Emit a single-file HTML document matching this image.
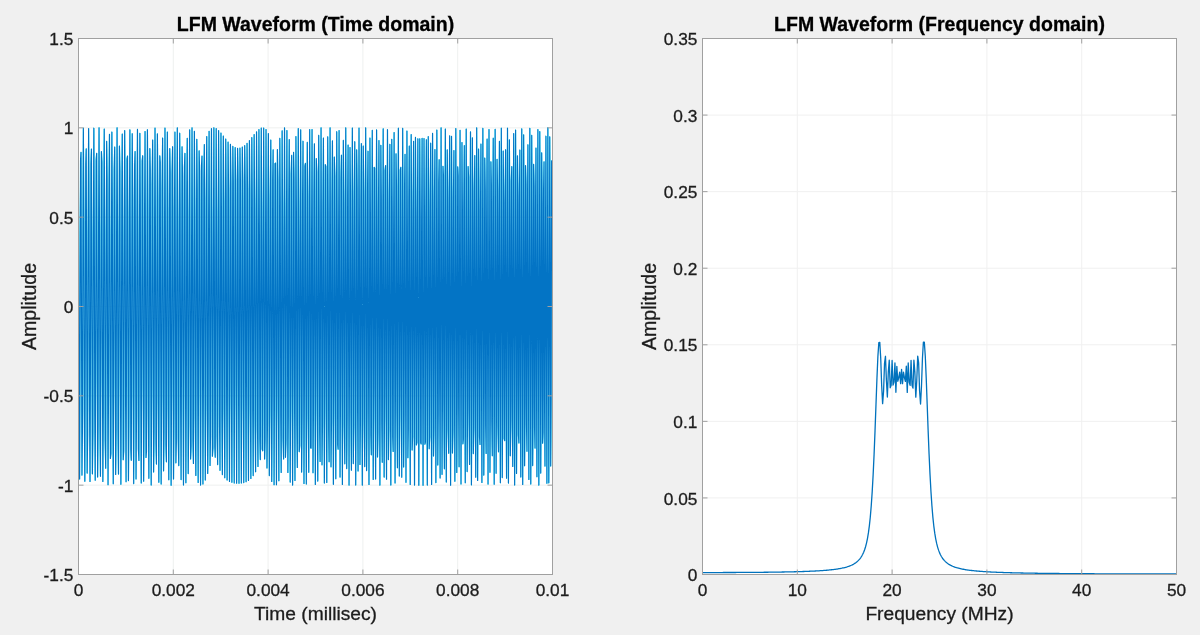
<!DOCTYPE html><html><head><meta charset="utf-8"><style>html,body{margin:0;padding:0;background:#f0f0f0;overflow:hidden}svg{display:block;will-change:transform}</style></head><body><svg width="1200" height="635" viewBox="0 0 1200 635">
<rect width="1200" height="635" fill="#f0f0f0"/>
<filter id="satc1" x="0" y="0" width="100%" height="100%" color-interpolation-filters="sRGB"><feComponentTransfer><feFuncR type="table" tableValues="0 0.124 0.242 0.360 0.665 1"/><feFuncG type="table" tableValues="0 0.2 0.4 0.6 0.8 1"/><feFuncB type="table" tableValues="0 0.203 0.406 0.609 0.827 1"/></feComponentTransfer></filter>
<g filter="url(#satc1)">
<rect x="78.5" y="38.5" width="474.0" height="536.0" fill="#ffffff"/>
<line x1="173.3" y1="38.5" x2="173.3" y2="574.5" stroke="#f6f0ee" stroke-width="1"/>
<line x1="268.1" y1="38.5" x2="268.1" y2="574.5" stroke="#f6f0ee" stroke-width="1"/>
<line x1="362.9" y1="38.5" x2="362.9" y2="574.5" stroke="#f6f0ee" stroke-width="1"/>
<line x1="457.7" y1="38.5" x2="457.7" y2="574.5" stroke="#f6f0ee" stroke-width="1"/>
<line x1="78.5" y1="127.83333333333333" x2="552.5" y2="127.83333333333333" stroke="#f6f0ee" stroke-width="1"/>
<line x1="78.5" y1="217.16666666666666" x2="552.5" y2="217.16666666666666" stroke="#f6f0ee" stroke-width="1"/>
<line x1="78.5" y1="306.5" x2="552.5" y2="306.5" stroke="#f6f0ee" stroke-width="1"/>
<line x1="78.5" y1="395.8333333333333" x2="552.5" y2="395.8333333333333" stroke="#f6f0ee" stroke-width="1"/>
<line x1="78.5" y1="485.1666666666667" x2="552.5" y2="485.1666666666667" stroke="#f6f0ee" stroke-width="1"/>
<clipPath id="c1"><rect x="78.0" y="38.0" width="475.0" height="537.0"/></clipPath>
<polyline clip-path="url(#c1)" points="78.16,127.8 78.64,231.0 79.11,421.5 79.59,479.0 80.06,337.0 80.54,159.6 81.01,152.4 81.49,323.7 81.96,475.1 82.43,430.9 82.91,242.2 83.38,128.2 83.86,221.4 84.33,413.5 84.81,481.2 85.28,345.5 85.76,164.3 86.23,148.9 86.70,317.2 87.18,473.1 87.65,434.5 88.13,246.4 88.60,128.5 89.08,218.8 89.55,411.7 90.02,481.5 90.50,346.3 90.97,164.4 91.45,149.1 91.92,318.5 92.40,473.8 92.87,432.6 93.35,243.2 93.82,128.2 94.29,223.0 94.77,416.1 95.24,480.2 95.72,339.5 96.19,159.9 96.67,153.3 97.14,327.6 97.62,477.0 98.09,424.9 98.56,232.8 99.04,127.8 99.51,234.4 99.99,426.4 100.46,476.3 100.94,324.8 101.41,151.6 101.89,162.2 102.36,344.3 102.83,481.4 103.31,410.6 103.78,215.9 104.26,129.0 104.73,253.6 105.21,441.2 105.68,468.2 106.15,302.3 106.63,141.3 107.10,177.7 107.58,368.0 108.05,484.8 108.53,388.3 109.00,193.8 109.48,134.3 109.95,281.2 110.42,458.4 110.90,453.4 111.37,272.0 111.85,132.0 112.32,201.7 112.80,397.4 113.27,483.8 113.75,356.7 114.22,169.2 114.69,147.1 115.17,317.2 115.64,474.5 116.12,429.0 116.59,235.5 117.07,127.8 117.54,236.2 118.02,429.6 118.49,474.1 118.96,315.6 119.44,146.1 119.91,171.1 120.39,360.4 120.86,484.3 121.34,392.3 121.81,196.0 122.28,134.0 122.76,281.8 123.23,459.7 123.71,451.0 124.18,266.3 124.66,130.5 125.13,209.4 125.61,406.8 126.08,481.7 126.55,342.6 127.03,159.3 127.50,156.0 127.98,336.9 128.45,480.6 128.93,411.0 129.40,213.3 129.88,129.9 130.35,263.2 130.82,449.7 131.30,460.3 131.77,281.9 132.25,133.7 132.72,198.1 133.20,396.0 133.67,483.6 134.14,353.0 134.62,165.0 135.09,151.6 135.57,329.4 136.04,479.0 136.52,415.4 136.99,217.1 137.47,129.4 137.94,260.9 138.41,448.9 138.89,460.5 139.36,281.1 139.84,133.3 140.31,200.4 140.79,399.3 141.26,482.9 141.74,347.2 142.21,160.8 142.68,155.7 143.16,338.3 143.63,481.3 144.11,406.4 144.58,206.9 145.06,131.6 145.53,274.7 146.01,457.5 146.48,451.6 146.95,264.2 147.43,129.7 147.90,216.5 148.38,416.1 148.85,478.3 149.33,325.1 149.80,148.5 150.27,170.2 150.75,363.1 151.22,484.9 151.70,382.4 152.17,184.5 152.65,140.1 153.12,305.3 153.60,472.0 154.07,430.1 154.54,232.3 155.02,128.1 155.49,249.1 155.97,442.7 156.44,464.1 156.92,286.2 157.39,133.9 157.87,200.1 158.34,401.1 158.81,482.2 159.29,340.5 159.76,155.7 160.24,162.3 160.71,352.1 161.19,484.0 161.66,390.3 162.13,190.0 162.61,138.0 163.08,300.6 163.56,470.8 164.03,431.6 164.51,232.8 164.98,128.1 165.46,251.1 165.93,444.9 166.40,461.8 166.88,280.1 167.35,132.1 167.83,207.4 168.30,409.6 168.78,479.7 169.25,327.7 169.73,148.5 170.20,172.1 170.67,368.3 171.15,485.2 171.62,372.3 172.10,174.8 172.57,146.7 173.05,324.4 173.52,479.0 174.00,411.3 174.47,208.4 174.94,132.1 175.42,280.9 175.89,462.8 176.37,442.7 176.84,246.5 177.32,127.9 177.79,240.5 178.26,438.6 178.74,465.6 179.21,286.3 179.69,133.2 180.16,205.0 180.64,408.6 181.11,479.6 181.59,325.6 182.06,146.8 182.53,175.7 183.01,375.0 183.48,485.0 183.96,362.5 184.43,166.9 184.91,153.4 185.38,339.8 185.86,482.7 186.33,395.4 186.80,191.9 187.28,138.3 187.75,304.8 188.23,473.6 188.70,423.5 189.18,220.1 189.65,129.9 190.12,271.5 190.60,459.0 191.07,446.3 191.55,249.9 192.02,127.9 192.50,240.9 192.97,440.2 193.45,463.5 193.92,279.9 194.39,131.3 194.87,213.7 195.34,418.6 195.82,475.5 196.29,309.2 196.77,139.3 197.24,190.5 197.72,395.1 198.19,482.5 198.66,336.8 199.14,150.9 199.61,171.3 200.09,371.0 200.56,485.1 201.04,362.1 201.51,165.2 201.99,156.1 202.46,347.0 202.93,484.0 203.41,384.8 203.88,181.3 204.36,144.6 204.83,323.8 205.31,479.9 205.78,404.6 206.25,198.3 206.73,136.5 207.20,301.9 207.68,473.5 208.15,421.7 208.63,215.7 209.10,131.3 209.58,281.7 210.05,465.4 210.52,436.0 211.00,232.8 211.47,128.6 211.95,263.4 212.42,456.2 212.90,447.7 213.37,249.3 213.85,127.8 214.32,247.0 214.79,446.4 215.27,457.2 215.74,264.7 216.22,128.6 216.69,232.7 217.17,436.5 217.64,464.6 218.12,278.9 218.59,130.5 219.06,220.3 219.54,426.9 220.01,470.3 220.49,291.7 220.96,133.1 221.44,209.9 221.91,417.8 222.38,474.6 222.86,302.9 223.33,136.1 223.81,201.1 224.28,409.6 224.76,477.7 225.23,312.5 225.71,139.1 226.18,194.0 226.65,402.4 227.13,479.9 227.60,320.5 228.08,142.0 228.55,188.4 229.03,396.4 229.50,481.4 229.98,326.9 230.45,144.4 230.92,184.2 231.40,391.7 231.87,482.3 232.35,331.6 232.82,146.4 233.30,181.2 233.77,388.3 234.24,482.9 234.72,334.7 235.19,147.6 235.67,179.4 236.14,386.4 236.62,483.2 237.09,336.2 237.57,148.2 238.04,178.8 238.51,385.9 238.99,483.2 239.46,336.1 239.94,148.0 240.41,179.3 240.89,386.8 241.36,483.0 241.84,334.5 242.31,147.1 242.78,181.0 243.26,389.2 243.73,482.6 244.21,331.2 244.68,145.5 245.16,183.8 245.63,393.0 246.11,481.7 246.58,326.3 247.05,143.3 247.53,187.9 248.00,398.1 248.48,480.4 248.95,319.8 249.43,140.6 249.90,193.4 250.37,404.5 250.85,478.4 251.32,311.6 251.80,137.6 252.27,200.4 252.75,412.0 253.22,475.6 253.70,301.8 254.17,134.6 254.64,208.9 255.12,420.5 255.59,471.7 256.07,290.5 256.54,131.8 257.02,219.2 257.49,429.7 257.97,466.5 258.44,277.5 258.91,129.5 259.39,231.4 259.86,439.4 260.34,459.6 260.81,263.2 261.29,128.1 261.76,245.5 262.23,449.4 262.71,450.8 263.18,247.6 263.66,128.0 264.13,261.7 264.61,459.0 265.08,439.7 265.56,231.1 266.03,129.6 266.50,279.8 266.98,468.0 267.45,426.2 267.93,213.9 268.40,133.5 268.88,299.8 269.35,475.6 269.83,410.0 270.30,196.5 270.77,140.1 271.25,321.6 271.72,481.4 272.20,391.0 272.67,179.6 273.15,149.9 273.62,344.6 274.10,484.7 274.57,369.2 275.04,163.7 275.52,163.2 275.99,368.6 276.47,484.7 276.94,344.6 277.42,149.6 277.89,180.4 278.36,392.8 278.84,480.8 279.31,317.6 279.79,138.4 280.26,201.7 280.74,416.3 281.21,472.4 281.69,288.8 282.16,130.8 282.63,226.9 283.11,438.2 283.58,458.9 284.06,258.9 284.53,127.8 285.01,255.8 285.48,457.3 285.96,440.0 286.43,228.9 286.90,130.5 287.38,287.9 287.85,472.4 288.33,415.6 288.80,200.1 289.28,139.5 289.75,322.2 290.22,482.1 290.70,386.0 291.17,173.9 291.65,155.4 292.12,357.5 292.60,485.1 293.07,351.7 293.55,152.2 294.02,178.4 294.49,392.1 294.97,480.5 295.44,314.0 295.92,136.5 296.39,208.3 296.87,424.2 297.34,467.4 297.82,274.3 298.29,128.5 298.76,244.3 299.24,451.6 299.71,445.4 300.19,234.7 300.66,129.8 301.14,285.2 301.61,472.1 302.09,414.8 302.56,197.7 303.03,141.2 303.51,328.8 303.98,483.4 304.46,376.5 304.93,166.0 305.41,163.4 305.88,372.6 306.35,483.9 306.83,332.3 307.30,142.4 307.78,195.9 308.25,413.5 308.73,472.3 309.20,284.8 309.68,129.5 310.15,237.3 310.62,448.0 311.10,448.1 311.57,237.4 312.05,129.6 312.52,285.4 313.00,472.7 313.47,412.1 313.95,193.9 314.42,143.8 314.89,336.7 315.37,484.5 315.84,366.2 316.32,158.6 316.79,172.3 317.27,387.0 317.74,481.1 318.21,313.6 318.69,135.4 319.16,213.9 319.64,431.3 320.11,461.4 320.59,258.8 321.06,127.9 321.54,265.5 322.01,464.8 322.48,425.9 322.96,207.2 323.43,138.1 323.91,322.8 324.38,483.0 324.86,377.0 325.33,164.6 325.81,166.5 326.28,379.8 326.75,482.4 327.23,319.0 327.70,136.7 328.18,211.3 328.65,430.1 329.13,461.7 329.60,258.1 330.08,127.9 330.55,268.6 331.02,466.8 331.50,421.6 331.97,201.6 332.45,140.9 332.92,332.0 333.40,484.3 333.87,366.0 334.34,157.1 334.82,175.7 335.29,393.6 335.77,478.7 336.24,301.1 336.72,131.7 337.19,229.1 337.67,444.7 338.14,449.1 338.61,235.5 339.09,130.5 339.56,294.8 340.04,477.1 340.51,398.1 340.99,178.7 341.46,155.2 341.94,363.7 342.41,484.4 342.88,332.0 343.36,140.4 343.83,204.0 344.31,425.2 344.78,463.8 345.26,260.4 345.73,127.9 346.21,270.5 346.68,468.6 347.15,416.9 347.63,195.0 348.10,145.1 348.58,344.4 349.05,485.1 349.53,349.9 350.00,147.6 350.47,191.0 350.95,413.1 351.42,470.2 351.90,273.8 352.37,128.0 352.85,258.9 353.32,463.6 353.80,424.6 354.27,202.3 354.74,141.7 355.22,337.1 355.69,484.9 356.17,355.3 356.64,149.8 357.12,188.1 357.59,410.8 358.07,471.0 358.54,274.8 359.01,128.0 359.49,259.6 359.96,464.4 360.44,422.7 360.91,199.5 361.39,143.5 361.86,342.3 362.33,485.1 362.81,348.5 363.28,146.1 363.76,194.9 364.23,418.6 364.71,466.6 365.18,263.5 365.66,127.9 366.13,272.7 366.60,470.6 367.08,410.7 367.55,187.0 368.03,151.2 368.50,359.7 368.98,484.5 369.45,329.0 369.93,138.1 370.40,212.6 370.87,435.2 371.35,454.8 371.82,240.4 372.30,130.3 372.77,298.6 373.25,479.4 373.72,386.9 374.20,167.3 374.67,168.0 375.14,388.0 375.62,479.0 376.09,296.6 376.57,129.9 377.04,243.2 377.52,456.9 377.99,431.8 378.46,207.7 378.94,140.5 379.41,337.2 379.89,485.1 380.36,348.9 380.84,145.2 381.31,198.4 381.79,423.8 382.26,462.3 382.73,252.4 383.21,128.8 383.68,288.8 384.16,477.1 384.63,392.9 385.11,170.6 385.58,165.6 386.06,385.9 386.53,479.2 387.00,296.0 387.48,129.6 387.95,246.6 388.43,459.6 388.90,427.1 389.38,201.1 389.85,144.3 390.32,348.0 390.80,485.0 391.27,335.1 391.75,139.2 392.22,212.4 392.70,437.1 393.17,451.5 393.65,232.4 394.12,132.6 394.59,313.2 395.07,483.0 395.54,368.0 396.02,153.7 396.49,186.2 396.97,413.1 397.44,467.7 397.92,261.6 398.39,128.2 398.86,283.3 399.34,476.0 399.81,394.1 400.29,170.2 400.76,167.3 401.24,390.2 401.71,477.3 402.19,287.0 402.66,128.4 403.13,259.2 403.61,466.9 404.08,413.8 404.56,186.1 405.03,154.4 405.51,370.4 405.98,482.3 406.45,307.6 406.93,131.1 407.40,240.7 407.88,457.7 408.35,427.8 408.83,199.7 409.30,146.1 409.78,354.7 410.25,484.4 410.72,323.0 411.20,134.5 411.67,227.7 412.15,450.0 412.62,437.0 413.10,210.0 413.57,141.3 414.05,343.8 414.52,485.1 414.99,333.0 415.47,137.4 415.94,219.8 416.42,444.9 416.89,442.3 417.37,216.1 417.84,138.8 418.31,337.8 418.79,485.2 419.26,337.9 419.74,138.8 420.21,216.5 420.69,442.8 421.16,443.9 421.64,217.9 422.11,138.4 422.58,337.0 423.06,485.2 423.53,337.5 424.01,138.5 424.48,217.8 424.96,444.2 425.43,442.2 425.91,215.1 426.38,139.7 426.85,341.3 427.33,485.1 427.80,332.0 428.28,136.5 428.75,223.8 429.23,448.7 429.70,436.9 430.18,207.9 430.65,143.2 431.12,350.8 431.60,484.5 432.07,321.3 432.55,133.3 433.02,234.6 433.50,456.0 433.97,427.6 434.44,196.7 434.92,149.5 435.39,365.0 435.87,482.6 436.34,305.2 436.82,130.0 437.29,250.6 437.77,465.0 438.24,413.4 438.71,182.4 439.19,159.7 439.66,383.6 440.14,477.9 440.61,284.0 441.09,127.9 441.56,272.4 442.04,474.3 442.51,393.6 442.98,166.2 443.46,175.2 443.93,405.7 444.41,468.8 444.88,258.0 445.36,129.1 445.83,299.9 446.31,481.9 446.78,367.4 447.25,149.9 447.73,197.4 448.20,429.6 448.68,453.3 449.15,228.4 449.63,135.8 450.10,332.7 450.57,485.2 451.05,334.4 451.52,136.3 452.00,227.2 452.47,452.9 452.95,429.7 453.42,197.0 453.90,150.6 454.37,369.6 454.84,481.2 455.32,295.2 455.79,128.5 456.27,265.3 456.74,472.4 457.22,396.4 457.69,166.9 458.17,175.8 458.64,408.0 459.11,466.7 459.59,251.5 460.06,130.3 460.54,310.6 461.01,483.9 461.49,353.3 461.96,142.5 462.43,212.9 462.91,443.8 463.38,439.2 463.86,206.8 464.33,145.6 464.81,360.8 465.28,482.7 465.76,301.7 466.23,129.0 466.70,261.7 467.18,471.6 467.65,397.1 468.13,166.6 468.60,177.2 469.08,410.8 469.55,464.5 470.03,245.5 470.50,131.8 470.97,319.8 471.45,484.8 471.92,341.6 472.40,137.7 472.87,225.8 473.35,453.6 473.82,426.7 474.30,191.6 474.77,155.6 475.24,381.2 475.72,477.3 476.19,277.0 476.67,127.9 477.14,288.9 477.62,480.5 478.09,369.7 478.56,149.0 479.04,202.3 479.51,436.9 479.99,444.5 480.46,211.8 480.94,144.1 481.41,359.5 481.89,482.5 482.36,298.5 482.83,128.4 483.31,269.2 483.78,475.1 484.26,386.4 484.73,158.0 485.21,189.3 485.68,425.6 486.16,453.5 486.63,224.0 487.10,139.0 487.58,347.5 488.05,484.1 488.53,309.2 489.00,129.5 489.48,260.4 489.95,472.2 490.42,392.9 490.90,161.7 491.37,185.1 491.85,422.0 492.32,455.7 492.80,226.8 493.27,138.2 493.75,346.1 494.22,484.2 494.69,309.0 495.17,129.4 495.64,262.3 496.12,473.2 496.59,389.8 497.07,159.2 497.54,189.0 498.02,426.5 498.49,451.8 498.96,219.9 499.44,141.3 499.91,355.2 500.39,482.8 500.86,297.9 501.34,128.2 501.81,274.8 502.29,477.6 502.76,376.7 503.23,151.1 503.71,201.6 504.18,438.6 504.66,440.7 505.13,204.1 505.61,149.7 506.08,374.5 506.55,478.2 507.03,276.0 507.50,128.2 507.98,298.4 508.45,483.1 508.93,352.6 509.40,139.8 509.88,224.7 510.35,455.7 510.82,420.0 511.30,181.3 511.77,166.6 512.25,402.3 512.72,466.5 513.20,244.1 513.67,133.5 514.15,333.0 514.62,485.0 515.09,316.8 515.57,130.1 516.04,260.1 516.52,473.4 516.99,386.8 517.47,155.8 517.94,195.8 518.41,435.0 518.89,442.9 519.36,205.3 519.84,150.0 520.31,376.7 520.79,476.9 521.26,269.8 521.74,128.9 522.21,308.6 522.68,484.5 523.16,338.9 523.63,134.7 524.11,241.1 524.58,465.7 525.06,402.3 525.53,165.5 526.01,183.9 526.48,424.4 526.95,451.2 527.43,215.7 527.90,144.8 528.38,367.3 528.85,479.4 529.33,277.6 529.80,128.3 530.28,302.8 530.75,484.0 531.22,342.5 531.70,135.4 532.17,239.7 532.65,465.6 533.12,401.7 533.60,164.3 534.07,186.1 534.54,427.4 535.02,448.1 535.49,210.3 535.97,148.1 536.44,375.2 536.92,476.8 537.39,267.1 537.87,129.5 538.34,315.7 538.81,485.1 539.29,327.6 539.76,131.5 540.24,256.1 540.71,473.1 541.19,384.6 541.66,152.8 542.14,203.0 542.61,443.2 543.08,432.3 543.56,190.3 544.03,161.8 544.51,399.4 544.98,466.1 545.46,239.1 545.93,136.2 546.41,346.9 546.88,483.2 547.35,293.8 547.83,127.8 548.30,291.4 548.78,482.8 549.25,348.8 549.73,136.7 550.20,238.3 550.67,466.0 551.15,398.8 551.62,160.9 552.10,192.4" fill="none" stroke="#0674c0" stroke-width="1.15" stroke-linejoin="round"/>
</g>
<rect x="78.5" y="38.5" width="474.0" height="536.0" fill="none" stroke="#a0a0a0" stroke-width="1"/>
<line x1="173.3" y1="574.5" x2="173.3" y2="569.5" stroke="#a0a0a0" stroke-width="1"/>
<line x1="173.3" y1="38.5" x2="173.3" y2="43.5" stroke="#a0a0a0" stroke-width="1"/>
<line x1="268.1" y1="574.5" x2="268.1" y2="569.5" stroke="#a0a0a0" stroke-width="1"/>
<line x1="268.1" y1="38.5" x2="268.1" y2="43.5" stroke="#a0a0a0" stroke-width="1"/>
<line x1="362.9" y1="574.5" x2="362.9" y2="569.5" stroke="#a0a0a0" stroke-width="1"/>
<line x1="362.9" y1="38.5" x2="362.9" y2="43.5" stroke="#a0a0a0" stroke-width="1"/>
<line x1="457.7" y1="574.5" x2="457.7" y2="569.5" stroke="#a0a0a0" stroke-width="1"/>
<line x1="457.7" y1="38.5" x2="457.7" y2="43.5" stroke="#a0a0a0" stroke-width="1"/>
<line x1="78.5" y1="127.83333333333333" x2="83.5" y2="127.83333333333333" stroke="#a0a0a0" stroke-width="1"/>
<line x1="552.5" y1="127.83333333333333" x2="547.5" y2="127.83333333333333" stroke="#a0a0a0" stroke-width="1"/>
<line x1="78.5" y1="217.16666666666666" x2="83.5" y2="217.16666666666666" stroke="#a0a0a0" stroke-width="1"/>
<line x1="552.5" y1="217.16666666666666" x2="547.5" y2="217.16666666666666" stroke="#a0a0a0" stroke-width="1"/>
<line x1="78.5" y1="306.5" x2="83.5" y2="306.5" stroke="#a0a0a0" stroke-width="1"/>
<line x1="552.5" y1="306.5" x2="547.5" y2="306.5" stroke="#a0a0a0" stroke-width="1"/>
<line x1="78.5" y1="395.8333333333333" x2="83.5" y2="395.8333333333333" stroke="#a0a0a0" stroke-width="1"/>
<line x1="552.5" y1="395.8333333333333" x2="547.5" y2="395.8333333333333" stroke="#a0a0a0" stroke-width="1"/>
<line x1="78.5" y1="485.1666666666667" x2="83.5" y2="485.1666666666667" stroke="#a0a0a0" stroke-width="1"/>
<line x1="552.5" y1="485.1666666666667" x2="547.5" y2="485.1666666666667" stroke="#a0a0a0" stroke-width="1"/>
<text x="78.5" y="596.3" text-anchor="middle" font-family="Liberation Sans, sans-serif" stroke-width="0.3" font-size="17.3" fill="#1c1c1c" stroke="#1c1c1c">0</text>
<text x="173.3" y="596.3" text-anchor="middle" font-family="Liberation Sans, sans-serif" stroke-width="0.3" font-size="17.3" fill="#1c1c1c" stroke="#1c1c1c">0.002</text>
<text x="268.1" y="596.3" text-anchor="middle" font-family="Liberation Sans, sans-serif" stroke-width="0.3" font-size="17.3" fill="#1c1c1c" stroke="#1c1c1c">0.004</text>
<text x="362.9" y="596.3" text-anchor="middle" font-family="Liberation Sans, sans-serif" stroke-width="0.3" font-size="17.3" fill="#1c1c1c" stroke="#1c1c1c">0.006</text>
<text x="457.7" y="596.3" text-anchor="middle" font-family="Liberation Sans, sans-serif" stroke-width="0.3" font-size="17.3" fill="#1c1c1c" stroke="#1c1c1c">0.008</text>
<text x="552.5" y="596.3" text-anchor="middle" font-family="Liberation Sans, sans-serif" stroke-width="0.3" font-size="17.3" fill="#1c1c1c" stroke="#1c1c1c">0.01</text>
<text x="73.4" y="45.10" text-anchor="end" font-family="Liberation Sans, sans-serif" stroke-width="0.3" font-size="17.3" fill="#1c1c1c" stroke="#1c1c1c">1.5</text>
<text x="73.4" y="134.43" text-anchor="end" font-family="Liberation Sans, sans-serif" stroke-width="0.3" font-size="17.3" fill="#1c1c1c" stroke="#1c1c1c">1</text>
<text x="73.4" y="223.77" text-anchor="end" font-family="Liberation Sans, sans-serif" stroke-width="0.3" font-size="17.3" fill="#1c1c1c" stroke="#1c1c1c">0.5</text>
<text x="73.4" y="313.10" text-anchor="end" font-family="Liberation Sans, sans-serif" stroke-width="0.3" font-size="17.3" fill="#1c1c1c" stroke="#1c1c1c">0</text>
<text x="73.4" y="402.43" text-anchor="end" font-family="Liberation Sans, sans-serif" stroke-width="0.3" font-size="17.3" fill="#1c1c1c" stroke="#1c1c1c">-0.5</text>
<text x="73.4" y="491.77" text-anchor="end" font-family="Liberation Sans, sans-serif" stroke-width="0.3" font-size="17.3" fill="#1c1c1c" stroke="#1c1c1c">-1</text>
<text x="73.4" y="581.10" text-anchor="end" font-family="Liberation Sans, sans-serif" stroke-width="0.3" font-size="17.3" fill="#1c1c1c" stroke="#1c1c1c">-1.5</text>
<text x="315.5" y="31.4" text-anchor="middle" font-family="Liberation Sans, sans-serif" stroke-width="0.3" font-size="19.5" font-weight="bold" fill="#000" stroke="#000">LFM Waveform (Time domain)</text>
<text x="315.5" y="619.7" text-anchor="middle" font-family="Liberation Sans, sans-serif" stroke-width="0.3" font-size="19.2" fill="#1c1c1c" stroke="#1c1c1c">Time (millisec)</text>
<text x="0" y="0" transform="translate(35.5,306.5) rotate(-90)" text-anchor="middle" font-family="Liberation Sans, sans-serif" stroke-width="0.3" font-size="19.6" fill="#1c1c1c" stroke="#1c1c1c">Amplitude</text>
<g>
<rect x="702.5" y="38.5" width="474.0" height="536.0" fill="#ffffff"/>
<line x1="797.3" y1="38.5" x2="797.3" y2="574.5" stroke="#f0f0f0" stroke-width="1"/>
<line x1="892.1" y1="38.5" x2="892.1" y2="574.5" stroke="#f0f0f0" stroke-width="1"/>
<line x1="986.9" y1="38.5" x2="986.9" y2="574.5" stroke="#f0f0f0" stroke-width="1"/>
<line x1="1081.7" y1="38.5" x2="1081.7" y2="574.5" stroke="#f0f0f0" stroke-width="1"/>
<line x1="702.5" y1="115.07142857142857" x2="1176.5" y2="115.07142857142857" stroke="#f0f0f0" stroke-width="1"/>
<line x1="702.5" y1="191.64285714285714" x2="1176.5" y2="191.64285714285714" stroke="#f0f0f0" stroke-width="1"/>
<line x1="702.5" y1="268.2142857142857" x2="1176.5" y2="268.2142857142857" stroke="#f0f0f0" stroke-width="1"/>
<line x1="702.5" y1="344.7857142857143" x2="1176.5" y2="344.7857142857143" stroke="#f0f0f0" stroke-width="1"/>
<line x1="702.5" y1="421.35714285714283" x2="1176.5" y2="421.35714285714283" stroke="#f0f0f0" stroke-width="1"/>
<line x1="702.5" y1="497.92857142857144" x2="1176.5" y2="497.92857142857144" stroke="#f0f0f0" stroke-width="1"/>
<clipPath id="c2"><rect x="702.0" y="38.0" width="475.0" height="537.0"/></clipPath>
<polyline clip-path="url(#c2)" points="702.50,572.55 703.45,572.55 704.40,572.55 705.34,572.55 706.29,572.55 707.24,572.55 708.19,572.55 709.14,572.55 710.08,572.55 711.03,572.55 711.98,572.55 712.93,572.54 713.88,572.54 714.82,572.54 715.77,572.54 716.72,572.54 717.67,572.54 718.62,572.53 719.56,572.53 720.51,572.53 721.46,572.53 722.41,572.53 723.36,572.52 724.30,572.52 725.25,572.52 726.20,572.51 727.15,572.51 728.10,572.51 729.04,572.51 729.99,572.50 730.94,572.50 731.89,572.49 732.84,572.49 733.78,572.49 734.73,572.48 735.68,572.48 736.63,572.47 737.58,572.47 738.52,572.46 739.47,572.46 740.42,572.45 741.37,572.45 742.32,572.44 743.26,572.44 744.21,572.43 745.16,572.43 746.11,572.42 747.06,572.41 748.00,572.41 748.95,572.40 749.90,572.39 750.85,572.39 751.80,572.38 752.74,572.37 753.69,572.37 754.64,572.36 755.59,572.35 756.54,572.34 757.48,572.33 758.43,572.32 759.38,572.32 760.33,572.31 761.28,572.30 762.22,572.29 763.17,572.28 764.12,572.27 765.07,572.26 766.02,572.25 766.96,572.24 767.91,572.23 768.86,572.21 769.81,572.20 770.76,572.19 771.70,572.18 772.65,572.17 773.60,572.15 774.55,572.14 775.50,572.13 776.44,572.11 777.39,572.10 778.34,572.08 779.29,572.07 780.24,572.05 781.18,572.04 782.13,572.02 783.08,572.00 784.03,571.99 784.98,571.97 785.92,571.95 786.87,571.93 787.82,571.91 788.77,571.89 789.72,571.87 790.66,571.85 791.61,571.83 792.56,571.81 793.51,571.78 794.46,571.76 795.40,571.73 796.35,571.71 797.30,571.68 798.25,571.66 799.20,571.63 800.14,571.60 801.09,571.57 802.04,571.54 802.99,571.51 803.94,571.48 804.88,571.45 805.83,571.41 806.78,571.38 807.73,571.34 808.68,571.30 809.62,571.26 810.57,571.22 811.52,571.18 812.47,571.14 813.42,571.09 814.36,571.04 815.31,571.00 816.26,570.95 817.21,570.89 818.16,570.84 819.10,570.78 820.05,570.72 821.00,570.66 821.95,570.60 822.90,570.53 823.84,570.46 824.79,570.39 825.74,570.31 826.69,570.23 827.64,570.15 828.58,570.06 829.53,569.97 830.48,569.87 831.43,569.77 832.38,569.66 833.32,569.55 834.27,569.43 835.22,569.30 836.17,569.17 837.12,569.03 838.06,568.88 839.01,568.72 839.96,568.56 840.91,568.38 841.86,568.19 842.80,567.98 843.75,567.76 844.70,567.53 845.65,567.28 846.60,567.01 847.54,566.72 848.49,566.40 849.44,566.05 850.39,565.68 851.34,565.27 852.28,564.82 853.23,564.33 854.18,563.78 855.13,563.17 856.08,562.50 857.02,561.74 857.97,560.88 858.92,559.91 859.87,558.80 860.82,557.52 861.76,556.03 862.71,554.28 863.66,552.21 864.61,549.74 865.56,546.74 866.50,543.08 867.45,538.56 868.40,532.93 869.35,525.86 870.30,516.97 871.24,505.81 872.19,491.89 873.14,474.78 874.09,454.28 875.04,430.61 875.98,404.76 876.93,378.89 877.88,356.56 878.83,342.65 879.78,342.32 880.72,358.32 881.67,385.43 882.62,403.71 883.57,391.20 884.52,363.40 885.46,356.27 886.41,380.37 887.36,397.02 888.31,372.09 889.26,360.16 890.20,387.82 891.15,385.34 892.10,360.51 893.05,385.18 894.00,382.10 894.94,362.99 895.89,392.35 896.84,366.32 897.79,381.29 898.74,377.59 899.68,372.13 900.63,383.60 901.58,369.44 902.53,383.59 903.48,372.16 904.42,377.52 905.37,381.39 906.32,366.20 907.27,392.46 908.22,362.96 909.16,381.96 910.11,385.40 911.06,360.37 912.01,385.20 912.96,388.12 913.90,360.09 914.85,371.75 915.80,397.15 916.75,380.72 917.70,356.17 918.64,362.96 919.59,390.96 920.54,404.04 921.49,385.93 922.44,358.54 923.38,342.17 924.33,342.20 925.28,355.96 926.23,378.26 927.18,404.19 928.12,430.15 929.07,453.95 930.02,474.59 930.97,491.81 931.92,505.83 932.86,517.08 933.81,526.04 934.76,533.17 935.71,538.85 936.66,543.41 937.60,547.10 938.55,550.13 939.50,552.62 940.45,554.71 941.40,556.48 942.34,557.99 943.29,559.28 944.24,560.41 945.19,561.39 946.14,562.26 947.08,563.03 948.03,563.72 948.98,564.34 949.93,564.90 950.88,565.40 951.82,565.86 952.77,566.28 953.72,566.66 954.67,567.02 955.62,567.34 956.56,567.64 957.51,567.92 958.46,568.18 959.41,568.42 960.36,568.65 961.30,568.86 962.25,569.06 963.20,569.24 964.15,569.42 965.10,569.58 966.04,569.74 966.99,569.88 967.94,570.02 968.89,570.16 969.84,570.28 970.78,570.40 971.73,570.51 972.68,570.62 973.63,570.72 974.58,570.82 975.52,570.91 976.47,571.00 977.42,571.09 978.37,571.17 979.32,571.25 980.26,571.32 981.21,571.39 982.16,571.46 983.11,571.53 984.06,571.59 985.00,571.66 985.95,571.71 986.90,571.77 987.85,571.83 988.80,571.88 989.74,571.93 990.69,571.98 991.64,572.03 992.59,572.08 993.54,572.12 994.48,572.16 995.43,572.21 996.38,572.25 997.33,572.29 998.28,572.32 999.22,572.36 1000.17,572.40 1001.12,572.43 1002.07,572.47 1003.02,572.50 1003.96,572.53 1004.91,572.56 1005.86,572.59 1006.81,572.62 1007.76,572.65 1008.70,572.68 1009.65,572.70 1010.60,572.73 1011.55,572.76 1012.50,572.78 1013.44,572.81 1014.39,572.83 1015.34,572.85 1016.29,572.88 1017.24,572.90 1018.18,572.92 1019.13,572.94 1020.08,572.96 1021.03,572.98 1021.98,573.00 1022.92,573.02 1023.87,573.04 1024.82,573.06 1025.77,573.08 1026.72,573.09 1027.66,573.11 1028.61,573.13 1029.56,573.14 1030.51,573.16 1031.46,573.18 1032.40,573.19 1033.35,573.21 1034.30,573.22 1035.25,573.24 1036.20,573.25 1037.14,573.26 1038.09,573.28 1039.04,573.29 1039.99,573.30 1040.94,573.32 1041.88,573.33 1042.83,573.34 1043.78,573.35 1044.73,573.37 1045.68,573.38 1046.62,573.39 1047.57,573.40 1048.52,573.41 1049.47,573.42 1050.42,573.43 1051.36,573.44 1052.31,573.46 1053.26,573.47 1054.21,573.48 1055.16,573.48 1056.10,573.49 1057.05,573.50 1058.00,573.51 1058.95,573.52 1059.90,573.53 1060.84,573.54 1061.79,573.55 1062.74,573.56 1063.69,573.57 1064.64,573.57 1065.58,573.58 1066.53,573.59 1067.48,573.60 1068.43,573.61 1069.38,573.61 1070.32,573.62 1071.27,573.63 1072.22,573.63 1073.17,573.64 1074.12,573.65 1075.06,573.66 1076.01,573.66 1076.96,573.67 1077.91,573.68 1078.86,573.68 1079.80,573.69 1080.75,573.69 1081.70,573.70 1082.65,573.71 1083.60,573.71 1084.54,573.72 1085.49,573.72 1086.44,573.73 1087.39,573.74 1088.34,573.74 1089.28,573.75 1090.23,573.75 1091.18,573.76 1092.13,573.76 1093.08,573.77 1094.02,573.77 1094.97,573.78 1095.92,573.78 1096.87,573.79 1097.82,573.79 1098.76,573.80 1099.71,573.80 1100.66,573.80 1101.61,573.81 1102.56,573.81 1103.50,573.82 1104.45,573.82 1105.40,573.83 1106.35,573.83 1107.30,573.83 1108.24,573.84 1109.19,573.84 1110.14,573.84 1111.09,573.85 1112.04,573.85 1112.98,573.85 1113.93,573.86 1114.88,573.86 1115.83,573.87 1116.78,573.87 1117.72,573.87 1118.67,573.87 1119.62,573.88 1120.57,573.88 1121.52,573.88 1122.46,573.89 1123.41,573.89 1124.36,573.89 1125.31,573.89 1126.26,573.90 1127.20,573.90 1128.15,573.90 1129.10,573.91 1130.05,573.91 1131.00,573.91 1131.94,573.91 1132.89,573.91 1133.84,573.92 1134.79,573.92 1135.74,573.92 1136.68,573.92 1137.63,573.93 1138.58,573.93 1139.53,573.93 1140.48,573.93 1141.42,573.93 1142.37,573.93 1143.32,573.94 1144.27,573.94 1145.22,573.94 1146.16,573.94 1147.11,573.94 1148.06,573.94 1149.01,573.95 1149.96,573.95 1150.90,573.95 1151.85,573.95 1152.80,573.95 1153.75,573.95 1154.70,573.95 1155.64,573.95 1156.59,573.96 1157.54,573.96 1158.49,573.96 1159.44,573.96 1160.38,573.96 1161.33,573.96 1162.28,573.96 1163.23,573.96 1164.18,573.96 1165.12,573.96 1166.07,573.96 1167.02,573.96 1167.97,573.96 1168.92,573.96 1169.86,573.96 1170.81,573.96 1171.76,573.97 1172.71,573.97 1173.66,573.97 1174.60,573.97 1175.55,573.97 1176.50,573.97" fill="none" stroke="#0072bd" stroke-width="1.3" stroke-linejoin="round"/>
</g>
<rect x="702.5" y="38.5" width="474.0" height="536.0" fill="none" stroke="#a0a0a0" stroke-width="1"/>
<line x1="797.3" y1="574.5" x2="797.3" y2="569.5" stroke="#a0a0a0" stroke-width="1"/>
<line x1="797.3" y1="38.5" x2="797.3" y2="43.5" stroke="#a0a0a0" stroke-width="1"/>
<line x1="892.1" y1="574.5" x2="892.1" y2="569.5" stroke="#a0a0a0" stroke-width="1"/>
<line x1="892.1" y1="38.5" x2="892.1" y2="43.5" stroke="#a0a0a0" stroke-width="1"/>
<line x1="986.9" y1="574.5" x2="986.9" y2="569.5" stroke="#a0a0a0" stroke-width="1"/>
<line x1="986.9" y1="38.5" x2="986.9" y2="43.5" stroke="#a0a0a0" stroke-width="1"/>
<line x1="1081.7" y1="574.5" x2="1081.7" y2="569.5" stroke="#a0a0a0" stroke-width="1"/>
<line x1="1081.7" y1="38.5" x2="1081.7" y2="43.5" stroke="#a0a0a0" stroke-width="1"/>
<line x1="702.5" y1="115.07142857142857" x2="707.5" y2="115.07142857142857" stroke="#a0a0a0" stroke-width="1"/>
<line x1="1176.5" y1="115.07142857142857" x2="1171.5" y2="115.07142857142857" stroke="#a0a0a0" stroke-width="1"/>
<line x1="702.5" y1="191.64285714285714" x2="707.5" y2="191.64285714285714" stroke="#a0a0a0" stroke-width="1"/>
<line x1="1176.5" y1="191.64285714285714" x2="1171.5" y2="191.64285714285714" stroke="#a0a0a0" stroke-width="1"/>
<line x1="702.5" y1="268.2142857142857" x2="707.5" y2="268.2142857142857" stroke="#a0a0a0" stroke-width="1"/>
<line x1="1176.5" y1="268.2142857142857" x2="1171.5" y2="268.2142857142857" stroke="#a0a0a0" stroke-width="1"/>
<line x1="702.5" y1="344.7857142857143" x2="707.5" y2="344.7857142857143" stroke="#a0a0a0" stroke-width="1"/>
<line x1="1176.5" y1="344.7857142857143" x2="1171.5" y2="344.7857142857143" stroke="#a0a0a0" stroke-width="1"/>
<line x1="702.5" y1="421.35714285714283" x2="707.5" y2="421.35714285714283" stroke="#a0a0a0" stroke-width="1"/>
<line x1="1176.5" y1="421.35714285714283" x2="1171.5" y2="421.35714285714283" stroke="#a0a0a0" stroke-width="1"/>
<line x1="702.5" y1="497.92857142857144" x2="707.5" y2="497.92857142857144" stroke="#a0a0a0" stroke-width="1"/>
<line x1="1176.5" y1="497.92857142857144" x2="1171.5" y2="497.92857142857144" stroke="#a0a0a0" stroke-width="1"/>
<text x="702.5" y="596.3" text-anchor="middle" font-family="Liberation Sans, sans-serif" stroke-width="0.3" font-size="17.3" fill="#1c1c1c" stroke="#1c1c1c">0</text>
<text x="797.3" y="596.3" text-anchor="middle" font-family="Liberation Sans, sans-serif" stroke-width="0.3" font-size="17.3" fill="#1c1c1c" stroke="#1c1c1c">10</text>
<text x="892.1" y="596.3" text-anchor="middle" font-family="Liberation Sans, sans-serif" stroke-width="0.3" font-size="17.3" fill="#1c1c1c" stroke="#1c1c1c">20</text>
<text x="986.9" y="596.3" text-anchor="middle" font-family="Liberation Sans, sans-serif" stroke-width="0.3" font-size="17.3" fill="#1c1c1c" stroke="#1c1c1c">30</text>
<text x="1081.7" y="596.3" text-anchor="middle" font-family="Liberation Sans, sans-serif" stroke-width="0.3" font-size="17.3" fill="#1c1c1c" stroke="#1c1c1c">40</text>
<text x="1176.5" y="596.3" text-anchor="middle" font-family="Liberation Sans, sans-serif" stroke-width="0.3" font-size="17.3" fill="#1c1c1c" stroke="#1c1c1c">50</text>
<text x="697.4" y="45.10" text-anchor="end" font-family="Liberation Sans, sans-serif" stroke-width="0.3" font-size="17.3" fill="#1c1c1c" stroke="#1c1c1c">0.35</text>
<text x="697.4" y="121.67" text-anchor="end" font-family="Liberation Sans, sans-serif" stroke-width="0.3" font-size="17.3" fill="#1c1c1c" stroke="#1c1c1c">0.3</text>
<text x="697.4" y="198.24" text-anchor="end" font-family="Liberation Sans, sans-serif" stroke-width="0.3" font-size="17.3" fill="#1c1c1c" stroke="#1c1c1c">0.25</text>
<text x="697.4" y="274.81" text-anchor="end" font-family="Liberation Sans, sans-serif" stroke-width="0.3" font-size="17.3" fill="#1c1c1c" stroke="#1c1c1c">0.2</text>
<text x="697.4" y="351.39" text-anchor="end" font-family="Liberation Sans, sans-serif" stroke-width="0.3" font-size="17.3" fill="#1c1c1c" stroke="#1c1c1c">0.15</text>
<text x="697.4" y="427.96" text-anchor="end" font-family="Liberation Sans, sans-serif" stroke-width="0.3" font-size="17.3" fill="#1c1c1c" stroke="#1c1c1c">0.1</text>
<text x="697.4" y="504.53" text-anchor="end" font-family="Liberation Sans, sans-serif" stroke-width="0.3" font-size="17.3" fill="#1c1c1c" stroke="#1c1c1c">0.05</text>
<text x="697.4" y="581.10" text-anchor="end" font-family="Liberation Sans, sans-serif" stroke-width="0.3" font-size="17.3" fill="#1c1c1c" stroke="#1c1c1c">0</text>
<text x="939.5" y="31.4" text-anchor="middle" font-family="Liberation Sans, sans-serif" stroke-width="0.3" font-size="19.5" font-weight="bold" fill="#000" stroke="#000">LFM Waveform (Frequency domain)</text>
<text x="939.5" y="619.7" text-anchor="middle" font-family="Liberation Sans, sans-serif" stroke-width="0.3" font-size="19.2" fill="#1c1c1c" stroke="#1c1c1c">Frequency (MHz)</text>
<text x="0" y="0" transform="translate(656.0,306.5) rotate(-90)" text-anchor="middle" font-family="Liberation Sans, sans-serif" stroke-width="0.3" font-size="19.6" fill="#1c1c1c" stroke="#1c1c1c">Amplitude</text>
</svg></body></html>
